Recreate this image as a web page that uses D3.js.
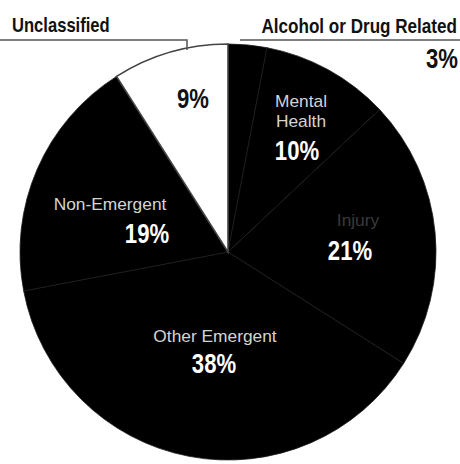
<!DOCTYPE html>
<html>
<head>
<meta charset="utf-8">
<script src="https://cdn.jsdelivr.net/npm/d3@7/dist/d3.min.js"></script>
<style>
  html, body { margin: 0; padding: 0; background: #fff; }
  svg { display: block; }
</style>
</head>
<body>
<div id="chart"></div>
<script>
// ---- data ----
const categories = ["Alcohol or Drug Related", "Mental Health", "Injury", "Other Emergent", "Non-Emergent", "Unclassified"];
const shares = [3, 10, 21, 38, 19, 9];
const labelLines = [[], ["Mental", "Health"], ["Injury"], ["Other Emergent"], ["Non-Emergent"], []];
const fills = ["#000", "#000", "#000", "#000", "#000", "#fff"];

// ---- layout (label anchors relative to pie centre) ----
const W = 460, H = 464;
const cx = 228, cy = 252, R = 208;
const pctPos = [
  {x: 458, y: 68, anchor: "end", abs: true, color: "#111"},
  {x: 69, y: -92, anchor: "middle", color: "#fff"},
  {x: 122, y: 8, anchor: "middle", color: "#fff"},
  {x: -14, y: 121, anchor: "middle", color: "#fff"},
  {x: -81, y: -9, anchor: "middle", color: "#fff"},
  {x: -35, y: -144, anchor: "middle", color: "#111"}
];
const namePos = [
  null,
  {x: 73, y: -145, dy: 20},
  {x: 130, y: -26, dy: 0},
  {x: -13, y: 90, dy: 0},
  {x: -118, y: -42, dy: 0},
  null
];

const svg = d3.select("#chart").append("svg")
  .attr("width", W).attr("height", H);

const pie = d3.pie().sort(null).value(d => d)(shares);
const arc = d3.arc().innerRadius(0).outerRadius(R);

const g = svg.append("g").attr("transform", `translate(${cx},${cy})`);

g.selectAll("path.slice")
  .data(pie)
  .join("path")
  .attr("class", "slice")
  .attr("d", arc)
  .attr("fill", (d, i) => fills[i])
  .attr("stroke", (d, i) => i === 5 ? "#444" : "#1c1c1c")
  .attr("stroke-width", (d, i) => i === 5 ? 1.6 : 0.8);

const font = "'Liberation Sans', Arial, sans-serif";

function narrowText(parent, x, y, txt, opts) {
  return parent.append("text")
    .attr("transform", `translate(${x},${y}) scale(${opts.sx || 1},1)`)
    .attr("text-anchor", opts.anchor || "start")
    .attr("font-family", font)
    .attr("font-weight", opts.weight || "normal")
    .attr("font-size", opts.size)
    .attr("fill", opts.color)
    .text(txt);
}

// category names inside
labelLines.forEach((lines, i) => {
  const p = namePos[i];
  if (!p) return;
  lines.forEach((t, k) => {
    narrowText(g, p.x, p.y + k * p.dy, t, {
      anchor: "middle", size: 17, sx: 1.02,
      color: i === 2 ? "#3a3a3a" : "#d4d4d4"
    });
  });
});

// percentages
pie.forEach((d, i) => {
  const p = pctPos[i];
  const parent = p.abs ? svg : g;
  narrowText(parent, p.x, p.y, d.data + "%", {
    anchor: p.anchor, size: 27, sx: 0.82, weight: "bold", color: p.color
  });
});

// outside titles with underlines
narrowText(svg, 12, 32, categories[5], {size: 20, sx: 0.83, weight: "bold", color: "#111"});
svg.append("path")
  .attr("d", "M0,40 H187 V50")
  .attr("fill", "none").attr("stroke", "#555").attr("stroke-width", 1.5);

narrowText(svg, 457, 33, categories[0], {anchor: "end", size: 20, sx: 0.855, weight: "bold", color: "#111"});
svg.append("path")
  .attr("d", "M240,40 H460")
  .attr("fill", "none").attr("stroke", "#555").attr("stroke-width", 1.5);
</script>
</body>
</html>
